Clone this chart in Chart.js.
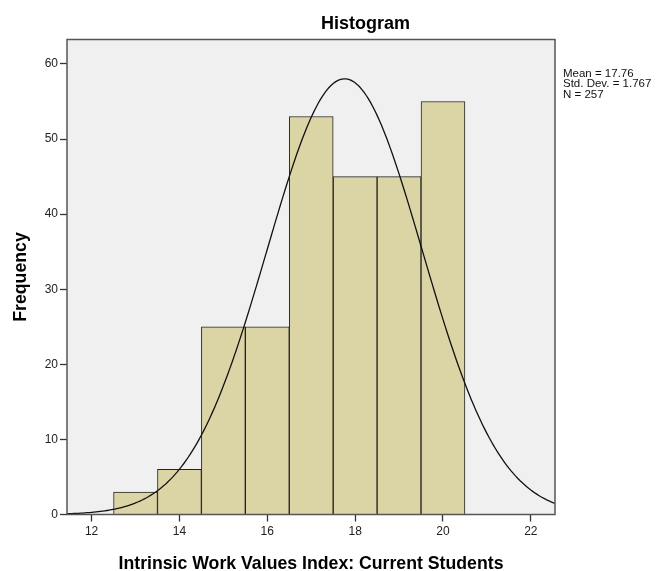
<!DOCTYPE html>
<html>
<head>
<meta charset="utf-8">
<title>Histogram</title>
<script src="https://cdn.jsdelivr.net/npm/chart.js@4.4.1/dist/chart.umd.min.js"></script>
<style>
    html, body { margin: 0; padding: 0; background: #fff; }
    #wrap { width: 663px; height: 571px; }
</style>
</head>
<body>
<div id="wrap"><canvas id="chart"></canvas></div>
<script>
// Histogram data (bins are 1 unit wide, centred on these values)
const binCenters = [13, 14, 15, 16, 17, 18, 19, 20];
const frequencies = [3, 6, 25, 25, 53, 45, 45, 55];
const xTicks = [12, 14, 16, 18, 20, 22];
const yTicks = [0, 10, 20, 30, 40, 50, 60];

// Summary statistics printed beside the plot
const mean = 17.76;
const stdDev = 1.767;
const count = 257;
const statsLines = ['Mean = 17.76', 'Std. Dev. = 1.767', 'N = 257'];

const FONT = '"Liberation Sans", Arial, sans-serif';

// Fitted normal curve, scaled to the histogram (N * bin width * pdf)
function normalCurve(from, to, step) {
    const pts = [];
    const k = count * 1 / (stdDev * Math.sqrt(2 * Math.PI));
    for (let x = from; x <= to + 1e-9; x += step) {
        const z = (x - mean) / stdDev;
        pts.push({ x: x, y: k * Math.exp(-0.5 * z * z) });
    }
    return pts;
}

// Plot background, frame, title and statistics box
const decorations = {
    id: 'decorations',
    beforeDatasetsDraw(chart) {
        const { ctx, chartArea: a } = chart;
        ctx.save();
        ctx.fillStyle = '#f0f0f0';
        ctx.fillRect(a.left, a.top, a.right - a.left, a.bottom - a.top);
        ctx.restore();
    },
    afterDraw(chart) {
        const { ctx, chartArea: a } = chart;
        ctx.save();
        ctx.strokeStyle = '#555';
        ctx.lineWidth = 1.5;
        ctx.strokeRect(a.left, a.top, a.right - a.left, a.bottom - a.top);

        ctx.fillStyle = '#000';
        ctx.font = 'bold 18px ' + FONT;
        ctx.textAlign = 'left';
        ctx.textBaseline = 'alphabetic';
        ctx.fillText('Histogram', 321, 29);

        ctx.font = '11.5px ' + FONT;
        ctx.fillStyle = '#111';
        statsLines.forEach((line, i) => {
            ctx.fillText(line, a.right + 8, 76.5 + i * 10.5);
        });
        ctx.restore();
    }
};

const ctx = document.getElementById('chart').getContext('2d');
const chart = new Chart(ctx, {
    type: 'bar',
    data: {
        datasets: [
            {
                type: 'line',
                data: normalCurve(11.3, 22.7, 0.05),
                borderColor: '#111',
                borderWidth: 1.3,
                pointRadius: 0,
                fill: false,
                tension: 0,
                order: 0
            },
            {
                type: 'bar',
                data: binCenters.map((c, i) => ({ x: c, y: frequencies[i] })),
                backgroundColor: '#dbd5a6',
                borderColor: '#222',
                borderWidth: 1,
                barPercentage: 1,
                categoryPercentage: 1,
                order: 1
            }
        ]
    },
    options: {
        responsive: true,
        maintainAspectRatio: false,
        animation: false,
        layout: { padding: { top: 39.5, right: 108, left: 0, bottom: 0 } },
        plugins: {
            legend: { display: false },
            tooltip: { enabled: false }
        },
        scales: {
            x: {
                type: 'linear',
                min: 11.44,
                max: 22.55,
                offset: false,
                afterBuildTicks: (scale) => { scale.ticks = xTicks.map(v => ({ value: v })); },
                afterFit: (scale) => { scale.height = 56.5; },
                grid: { display: true, offset: false, drawOnChartArea: false, drawTicks: true, tickLength: 7, tickColor: '#333', tickWidth: 1.3 },
                border: { display: false },
                ticks: { font: { family: FONT, size: 12 }, color: '#222', padding: 3, maxRotation: 0 },
                title: {
                    display: true,
                    text: 'Intrinsic Work Values Index: Current Students',
                    font: { family: FONT, size: 17.7, weight: 'bold', lineHeight: 0.8 },
                    color: '#000',
                    padding: { top: 0, bottom: 0 }
                }
            },
            y: {
                min: 0,
                max: 63.26,
                afterBuildTicks: (scale) => { scale.ticks = yTicks.map(v => ({ value: v })); },
                afterFit: (scale) => { scale.width = 67; },
                grid: { display: true, offset: false, drawOnChartArea: false, drawTicks: true, tickLength: 7, tickColor: '#333', tickWidth: 1.3 },
                border: { display: false },
                ticks: { font: { family: FONT, size: 12 }, color: '#222', padding: 2 },
                title: {
                    display: true,
                    text: 'Frequency',
                    font: { family: FONT, size: 17.7, weight: 'bold', lineHeight: 1 },
                    color: '#000',
                    padding: { top: 12, bottom: 0 }
                }
            }
        }
    },
    plugins: [decorations]
});
</script>
</body>
</html>
